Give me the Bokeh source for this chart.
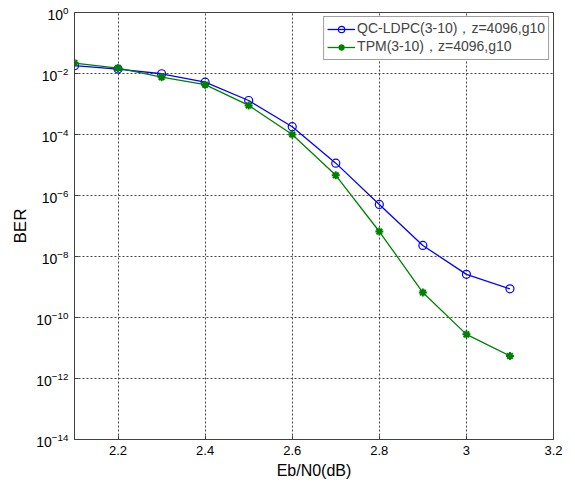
from bokeh.plotting import figure
from bokeh.models import FixedTicker, CustomJSTickFormatter, Legend, LegendItem, Range1d
from bokeh.embed import file_html
from bokeh.resources import INLINE

ebn0 = [2.1, 2.2, 2.3, 2.4, 2.5, 2.6, 2.7, 2.8, 2.9, 3.0, 3.1]
ber_qc = [1.8e-2, 1.4e-2, 9.8e-3, 5.2e-3, 1.3e-3, 1.8e-4, 1.15e-5, 5.1e-7, 2.3e-8, 2.6e-9, 8.7e-10]
ber_tpm = [2.2e-2, 1.5e-2, 7.6e-3, 4.3e-3, 9.0e-4, 1.0e-4, 4.6e-6, 6.6e-8, 6.6e-10, 2.8e-11, 5.5e-12]
label_qc = "QC-LDPC(3-10)，z=4096,g10"
label_tpm = "TPM(3-10)，z=4096,g10"
x_ticks = [2.2, 2.4, 2.6, 2.8, 3.0, 3.2]
y_ticks = [1e-14, 1e-12, 1e-10, 1e-8, 1e-6, 1e-4, 1e-2, 1e0]

FONT = "Liberation Sans"

p = figure(width=567, height=481, y_axis_type="log", output_backend="svg",
           toolbar_location=None, x_range=Range1d(2.1, 3.2), y_range=Range1d(1e-14, 1e0),
           min_border_left=74, min_border_right=14, min_border_top=12, min_border_bottom=30)

p.outline_line_color = "#404040"
p.outline_line_width = 1
p.background_fill_color = "white"
p.border_fill_color = "white"

for g in (p.xgrid, p.ygrid):
    g.grid_line_color = "#444444"
    g.grid_line_dash = "2 2"
    g.grid_line_width = 1
    g.minor_grid_line_color = None

p.xaxis.ticker = FixedTicker(ticks=x_ticks)
p.xaxis.formatter = CustomJSTickFormatter(code="return tick.toFixed(1).replace(/\\.0$/, '');")
p.yaxis.ticker = FixedTicker(ticks=y_ticks)

for ax in (p.xaxis, p.yaxis):
    ax.axis_line_color = "#404040"
    ax.major_tick_line_color = "#404040"
    ax.major_tick_in = 4
    ax.major_tick_out = 0
    ax.minor_tick_line_color = None
    ax.major_label_text_font = FONT
    ax.major_label_text_color = "black"
    ax.axis_label_text_font = FONT
    ax.axis_label_text_font_style = "normal"
    ax.axis_label_text_color = "black"

p.xaxis.major_label_text_font_size = "13px"
p.yaxis.major_label_text_font_size = "14px"
p.xaxis.major_label_standoff = 6
p.yaxis.major_label_standoff = 6
p.xaxis.axis_label = "Eb/N0(dB)"
p.xaxis.axis_label_text_font_size = "16px"
p.xaxis.axis_label_standoff = 4
p.yaxis.axis_label = "BER"
p.yaxis.axis_label_text_font_size = "17px"
p.yaxis.axis_label_standoff = 3

l1 = p.line(ebn0, ber_qc, line_color="#0000ff", line_width=1.3)
m1 = p.scatter(ebn0, ber_qc, marker="circle", size=8, fill_color=None, line_color="#0000ff", line_width=1.2)
l2 = p.line(ebn0, ber_tpm, line_color="#008000", line_width=1.3)
m2 = p.scatter(ebn0, ber_tpm, marker="asterisk", size=8, line_color="#008000", line_width=2)

legend = Legend(items=[LegendItem(label=label_qc, renderers=[l1, m1]),
                       LegendItem(label=label_tpm, renderers=[l2, m2])],
                location="top_right")
legend.label_text_font = FONT
legend.label_text_font_size = "14px"
legend.border_line_color = "#404040"
legend.background_fill_alpha = 1
legend.margin = 4
legend.padding = 3
legend.spacing = 0
legend.glyph_width = 28
legend.label_standoff = 2
legend.label_height = 16
legend.glyph_height = 16
p.add_layout(legend)

open("out.html", "w").write(file_html(p, INLINE))
